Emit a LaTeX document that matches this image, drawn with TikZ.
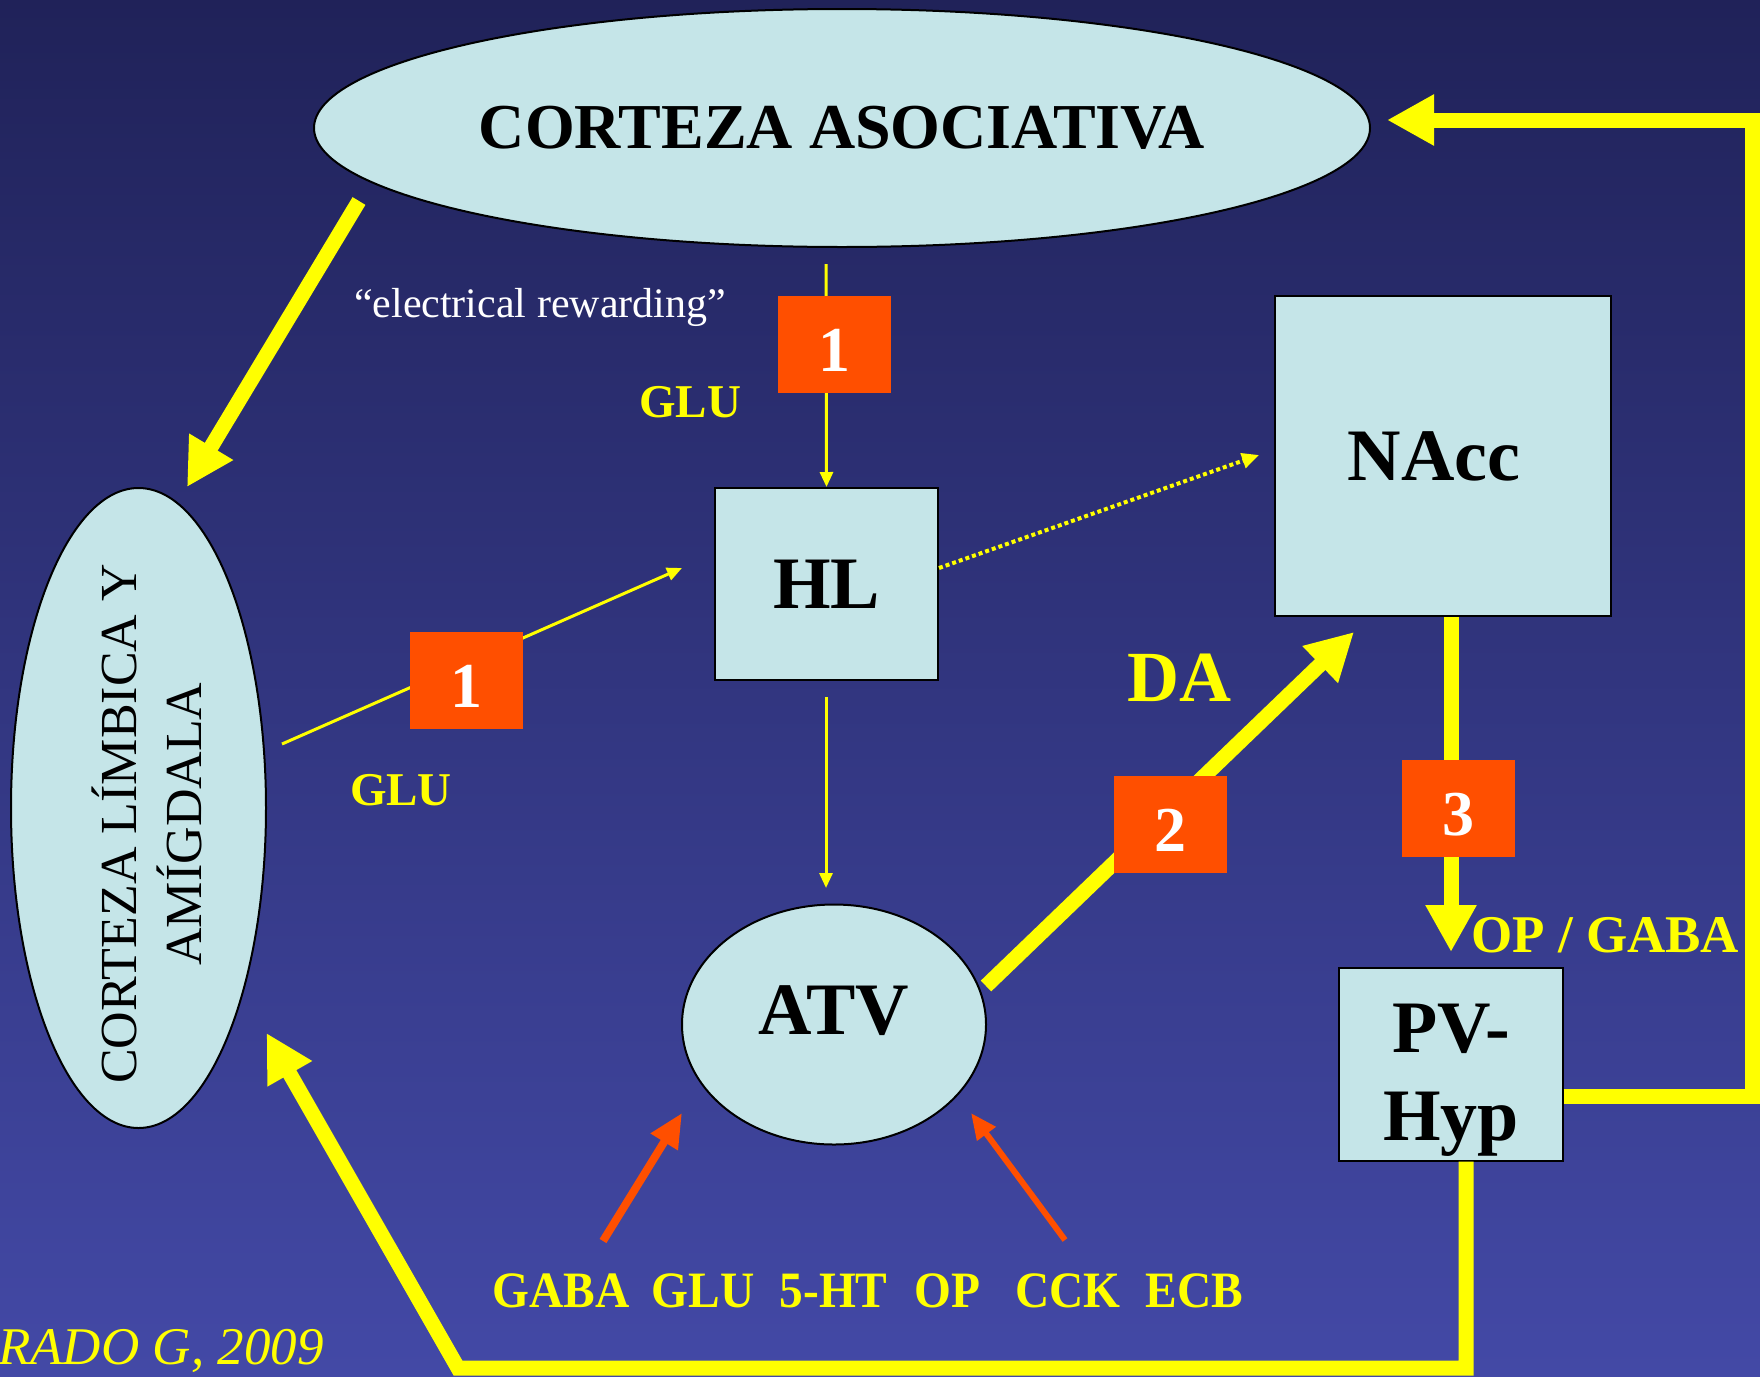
\documentclass[tikz,border=0pt]{standalone}
\usepackage{fontspec}
\setmainfont{Liberation Serif}
\usetikzlibrary{arrows.meta,shapes.geometric,calc}

\definecolor{bgtop}{HTML}{202259}
\definecolor{bgbot}{HTML}{4349A6}
\definecolor{boxfill}{HTML}{C5E5E8}
\definecolor{marker}{HTML}{FF4F00}
\definecolor{ylw}{HTML}{FFFF00}

\newcommand{\fsz}[1]{\fontsize{#1}{#1}\selectfont}

\begin{document}
\begin{tikzpicture}[x=1pt,y=-1pt,
  region/.style={draw=black,line width=2pt,fill=boxfill,inner sep=0pt,font=\fsz{74}\bfseries},
  ovalregion/.style={region,ellipse},
  boxregion/.style={region,rectangle},
  badge/.style={fill=marker,minimum width=113pt,minimum height=97pt,inner sep=0pt,
    text=white,font=\fsz{64}\bfseries,text height=54pt,text depth=0pt},
  bigpath/.style={draw=ylw,line width=15pt,line join=miter,-{Triangle[length=47pt,width=48pt]}},
  thinpath/.style={draw=ylw,line width=3pt,-{Triangle[length=15pt,width=13pt]}},
  dotpath/.style={draw=ylw,line width=4pt,dash pattern=on 4pt off 3pt,-{Triangle[length=17pt,width=15pt]}},
  inpath/.style={draw=marker,line width=#1},
  ylabel/.style={text=ylw,inner sep=0pt,font=\fsz{47}\bfseries},
]

% page and background
\useasboundingbox (0,0) rectangle (1760,1376);
\fill[top color=bgtop,bottom color=bgbot] (0,0) rectangle (1760,1376);

% regions
\node[ovalregion,minimum width=1056pt,minimum height=238pt,font=\fsz{64}\bfseries] (asoc) at (842,128) {CORTEZA ASOCIATIVA};
\node[ovalregion,minimum width=255pt,minimum height=640pt] (limb) at (138.5,808) {};
\node[inner sep=0pt,rotate=90,align=center,font=\fontsize{52}{65}\selectfont] (limbtxt) at (147,824) {CORTEZA LÍMBICA Y\\AMÍGDALA};
\node[boxregion,minimum width=223pt,minimum height=192pt] (hl) at (826.5,584) {HL};
\node[boxregion,minimum width=336pt,minimum height=320pt] (nacc) at (1443,456) {NAcc\kern18pt};
\node[ovalregion,minimum width=304pt,minimum height=240pt,text height=49pt,text depth=29pt] (atv) at (834,1024.5) {ATV};
\node[boxregion,minimum width=224pt,minimum height=193pt] (pv) at (1450.5,1064) {};
\node[inner sep=0pt,align=center,font=\fontsize{74}{88}\selectfont\bfseries] (pvtxt) at (1451,1080.5) {PV-\\Hyp};

% free ends of connectors
\coordinate (asocOut) at (826,264);
\coordinate (tlStart) at (359,201);
\coordinate (tlTip) at (187,487);
\coordinate (limbOut) at (282,744);
\coordinate (hlIn) at (682,568);
\coordinate (naccIn) at (1259,455);
\coordinate (hlLow) at (826,697);
\coordinate (atvIn) at (826,888);
\coordinate (daStart) at (986,986);
\coordinate (daTip) at (1354,632);
\coordinate (pvTip) at (1451,952);
\coordinate (fbRight) at (1752,1096);
\coordinate (fbTop) at (1752,120);
\coordinate (asocIn) at (1387,120);
\coordinate (pvDown) at (1466,1368);
\coordinate (fbLeft) at (458,1368);
\coordinate (limbIn) at (266.5,1033);
\coordinate (gabaStart) at (603,1241);
\coordinate (gabaTip) at (682,1113);
\coordinate (cckStart) at (1065,1240);
\coordinate (cckTip) at (971,1113);

% connectors
\draw[bigpath] (tlStart) -- (tlTip);
\draw[thinpath] (asocOut) -- (hl.north);
\draw[thinpath] (limbOut) -- (hlIn);
\draw[dotpath] (hl.east |- hlIn) -- (naccIn);
\draw[thinpath] (hlLow) -- (atvIn);
\draw[bigpath] (daStart) -- (daTip);
\draw[bigpath] (pvTip |- nacc.south) -- (pvTip);
\draw[bigpath] (pv.east |- fbRight) -- (fbRight) -- (fbTop) -- (asocIn);
\draw[bigpath] (pvDown |- pv.south) -- (pvDown) -- (fbLeft) -- (limbIn);
\draw[inpath=8pt,-{Triangle[length=34pt,width=30pt]}] (gabaStart) -- (gabaTip);
\draw[inpath=6pt,-{Triangle[length=26pt,width=22pt]}] (cckStart) -- (cckTip);

% numbered markers
\node[badge] (m1a) at (834.5,344) {1};
\node[badge] (m1b) at (466.5,680) {1};
\node[badge] (m2) at (1170.5,824) {2};
\node[badge] (m3) at (1458.5,808) {3};

% labels
\node[inner sep=0pt,anchor=base,text=white,font=\fsz{42}] (elec) at (540,317) {``electrical rewarding''};
\node[ylabel,anchor=base] (glu1) at (690,417) {GLU};
\node[ylabel,anchor=base] (glu2) at (401,805) {GLU};
\node[ylabel,anchor=base,font=\fsz{72}\bfseries] (da) at (1179,701) {DA};
\node[ylabel,anchor=base west,font=\fsz{53}\bfseries] (opgaba) at (1471,952) {OP / GABA};
\node[ylabel,anchor=base,xscale=0.93,font=\fsz{51}\bfseries] (mods) at (868,1307)
  {GABA\hspace{23.7pt}GLU\hspace{26.9pt}5-HT\hspace{29pt}OP\hspace{37.6pt}CCK\hspace{26.9pt}ECB};
\node[ylabel,anchor=base west,font=\fsz{53}\itshape] (cite) at (-2,1364) {RADO G, 2009};

\end{tikzpicture}
\end{document}
